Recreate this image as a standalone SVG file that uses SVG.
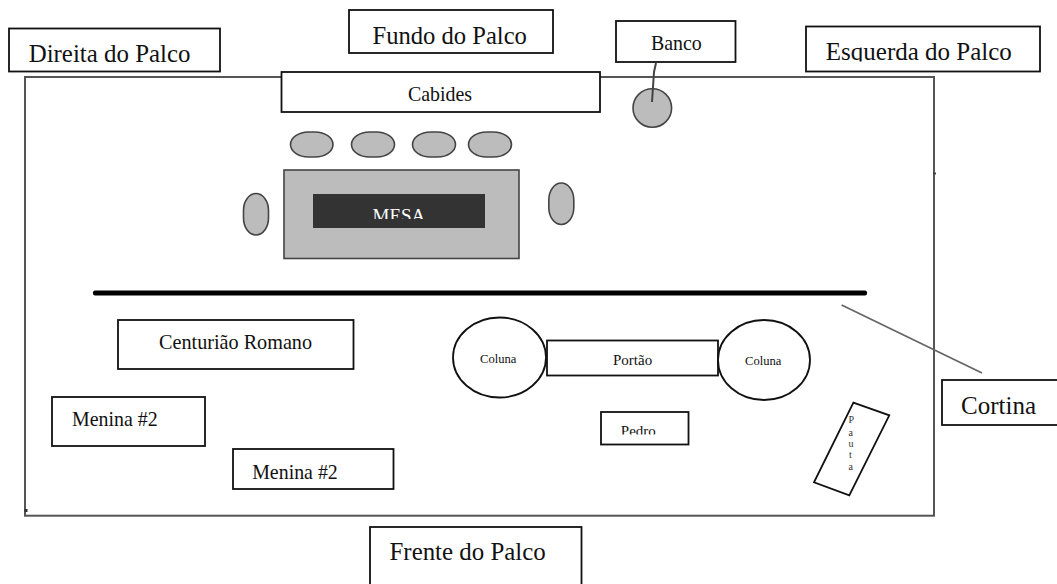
<svg xmlns="http://www.w3.org/2000/svg" width="1057" height="584" viewBox="0 0 1057 584">
<style>
text{font-family:"Liberation Serif","Times New Roman",serif;fill:#111}
.b{fill:#fff;stroke:#111;stroke-width:1.8}
.c{fill:#bcbcbc;stroke:#444;stroke-width:1.6}
.g{fill:none;stroke:#555;stroke-width:2}
.s20{font-size:19.9px}
.s23{font-size:25px}
.s12{font-size:12.6px}
.s15{font-size:15px}
.s8{font-size:10px;fill:#333}
</style>
<defs>
<clipPath id="clipMesa"><rect x="313" y="194" width="172" height="25"/></clipPath>
<clipPath id="clipPedro"><rect x="601" y="413" width="87" height="21.5"/></clipPath>
<clipPath id="clipEsq"><rect x="807" y="27" width="232" height="34.5"/></clipPath>
</defs>
<rect width="1057" height="584" fill="#fff"/>
<g id="palco">
<rect class="g" x="25" y="77" width="909" height="438.700"/>
<rect x="933" y="172.500" width="3" height="2" fill="#444"/>
<rect x="24.500" y="509" width="3" height="3" fill="#333"/>
</g>
<g id="direita"><rect class="b" x="9" y="28.500" width="211" height="43"/><text x="28.700" y="62" style="font-size:24.900px">Direita do Palco</text></g>
<g id="fundo"><rect class="b" x="349" y="10" width="204" height="43"/><text x="372.500" y="43.500" style="font-size:24.600px">Fundo do Palco</text></g>
<g id="cabides"><rect class="b" x="281.500" y="72" width="318.500" height="40"/><text class="s20" x="408" y="101">Cabides</text></g>
<g id="banco"><rect class="b" x="616" y="21" width="119.500" height="41"/><text class="s20" x="651" y="50">Banco</text></g>
<g id="esquerda"><rect class="b" x="806" y="26.500" width="234" height="45"/><text class="s23" x="825.800" y="60" clip-path="url(#clipEsq)">Esquerda do Palco</text></g>
<g id="banco-assento"><circle class="c" cx="652.300" cy="108" r="19.300"/></g>
<g id="cadeira-1"><rect class="c" x="290.500" y="132" width="42.500" height="25" rx="18" ry="12.500"/></g>
<g id="cadeira-2"><rect class="c" x="351.500" y="132" width="43" height="25" rx="18" ry="12.500"/></g>
<g id="cadeira-3"><rect class="c" x="412.500" y="132" width="43" height="25" rx="18" ry="12.500"/></g>
<g id="cadeira-4"><rect class="c" x="468.500" y="132" width="43" height="25" rx="18" ry="12.500"/></g>
<g id="cadeira-5"><rect class="c" x="243.500" y="193.500" width="25" height="41.500" rx="12.500" ry="17"/></g>
<g id="cadeira-6"><rect class="c" x="548.800" y="183" width="25" height="41.500" rx="12.500" ry="17"/></g>
<g id="mesa"><rect class="c" x="284" y="170" width="235" height="88.500"/><rect x="313" y="194" width="172" height="34" fill="#333"/><text x="372.500" y="221.500" clip-path="url(#clipMesa)" style="font-size:19px;fill:#fff">MESA</text></g>
<g id="barra"><rect x="93" y="290.500" width="774" height="5" rx="2" fill="#000"/></g>
<g id="centuriao"><rect class="b" x="118" y="320" width="235.500" height="49"/><text x="159" y="349" style="font-size:20.200px">Centurião Romano</text></g>
<g id="menina-1"><rect class="b" x="52" y="397" width="153" height="49"/><text class="s20" x="72" y="426">Menina #2</text></g>
<g id="menina-2"><rect class="b" x="233" y="449" width="160.500" height="40"/><text class="s20" x="252.200" y="479">Menina #2</text></g>
<g id="coluna-1"><ellipse class="b" cx="499.500" cy="357.500" rx="46.500" ry="40"/><text class="s12" x="480" y="363">Coluna</text></g>
<g id="portao"><rect class="b" x="547" y="340.500" width="171" height="35"/><text class="s15" x="613" y="365">Portão</text></g>
<g id="coluna-2"><ellipse class="b" cx="764" cy="360" rx="46" ry="40"/><text class="s12" x="745" y="365">Coluna</text></g>
<g id="pedro"><rect class="b" x="601" y="412" width="87.500" height="32.500"/><text class="s15" x="620.800" y="436" clip-path="url(#clipPedro)">Pedro</text></g>
<g id="pauta"><polygon class="b" points="853.400,402.700 889.300,415.300 849.300,495.300 814,482.300"/>
<text class="s8" x="848.600" y="423">P</text><text class="s8" x="848.600" y="436">a</text><text class="s8" x="848.600" y="447">u</text><text class="s8" x="849" y="458">t</text><text class="s8" x="848.600" y="470">a</text></g>
<g id="cortina"><rect class="b" x="942" y="380" width="125" height="45"/><text class="s23" x="961" y="414">Cortina</text></g>
<g id="frente"><rect class="b" x="370" y="527" width="211.500" height="70"/><text x="389.500" y="560" style="font-size:24.900px">Frente do Palco</text></g>
<g id="conectores">
<polyline points="656,63 654,72 652,102" fill="none" stroke="#444" stroke-width="2"/>
<line x1="841.600" y1="305" x2="982" y2="373" stroke="#666" stroke-width="1.800"/>
</g>
</svg>
